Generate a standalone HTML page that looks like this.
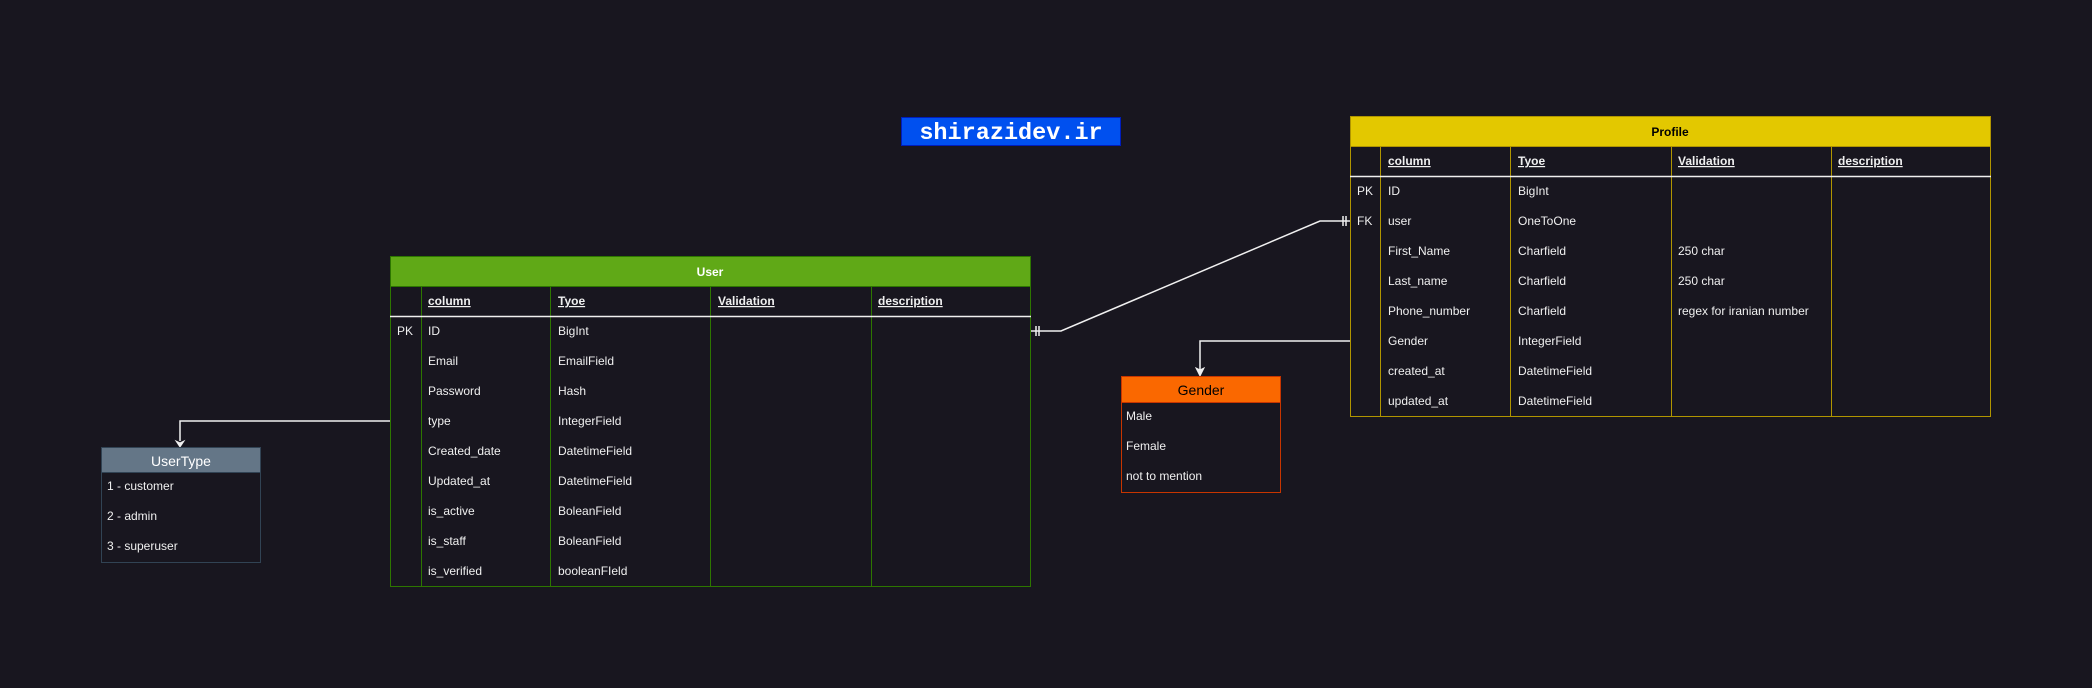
<!DOCTYPE html>
<html><head><meta charset="utf-8"><style>
html,body{margin:0;padding:0;background:#18161f;}
svg{display:block;}
text{font-family:"Liberation Sans",Arial,sans-serif;font-size:12px;fill:#f0f0f0;}
.b{font-weight:bold;}
.u{text-decoration:underline;font-weight:bold;}
</style></head><body>
<svg width="2092" height="688" viewBox="0 0 2092 688" xmlns="http://www.w3.org/2000/svg">
<rect width="2092" height="688" fill="#18161f"/>

<!-- label -->
<rect x="901.5" y="117.5" width="219" height="28" fill="#0050ef" stroke="#001dbc"/>
<text x="1011" y="139" text-anchor="middle" style="font-family:'Liberation Mono',monospace;font-size:23.5px;font-weight:bold;fill:#fff">shirazidev.ir</text>

<!-- connectors -->
<g stroke="#f0f0f0" stroke-width="1.5" fill="none">
<polyline points="1031,331 1061,331 1320,221 1350,221"/>
<line x1="1036" y1="326" x2="1036" y2="336"/><line x1="1039" y1="326" x2="1039" y2="336"/>
<line x1="1343" y1="216" x2="1343" y2="226"/><line x1="1346" y1="216" x2="1346" y2="226"/>
<polyline points="1350,341 1200,341 1200,370"/>
<polyline points="390,421 180,421 180,441"/>
</g>
<path d="M1196,368 L1200,376 L1204,368 L1200,370 Z" fill="#f0f0f0" stroke="#f0f0f0"/>
<path d="M176,441 L180,447 L184,441 L180,443 Z" fill="#f0f0f0" stroke="#f0f0f0"/>

<!-- User table -->
<rect x="390.5" y="256.5" width="640" height="30" fill="#60a917" stroke="#2d7600"/>
<text x="710" y="276" text-anchor="middle" class="b" style="fill:#fff">User</text>
<rect x="390.5" y="286.5" width="640" height="300" fill="none" stroke="#2d7600"/>
<g stroke="#2d7600"><line x1="421.5" y1="286" x2="421.5" y2="587"/><line x1="550.5" y1="286" x2="550.5" y2="587"/><line x1="710.5" y1="286" x2="710.5" y2="587"/><line x1="871.5" y1="286" x2="871.5" y2="587"/></g>
<line x1="390" y1="316.5" x2="1031" y2="316.5" stroke="#f0f0f0" stroke-width="1.5"/>
<text x="428" y="305" class="u">column</text><text x="558" y="305" class="u">Tyoe</text><text x="718" y="305" class="u">Validation</text><text x="878" y="305" class="u">description</text>
<text x="397" y="335">PK</text>
<g>
<text x="428" y="335">ID</text><text x="558" y="335">BigInt</text>
<text x="428" y="365">Email</text><text x="558" y="365">EmailField</text>
<text x="428" y="395">Password</text><text x="558" y="395">Hash</text>
<text x="428" y="425">type</text><text x="558" y="425">IntegerField</text>
<text x="428" y="455">Created_date</text><text x="558" y="455">DatetimeField</text>
<text x="428" y="485">Updated_at</text><text x="558" y="485">DatetimeField</text>
<text x="428" y="515">is_active</text><text x="558" y="515">BoleanField</text>
<text x="428" y="545">is_staff</text><text x="558" y="545">BoleanField</text>
<text x="428" y="575">is_verified</text><text x="558" y="575">booleanFIeld</text>
</g>

<!-- Profile table -->
<rect x="1350.5" y="116.5" width="640" height="30" fill="#e3c800" stroke="#b09500"/>
<text x="1670" y="136" text-anchor="middle" class="b" style="fill:#000">Profile</text>
<rect x="1350.5" y="146.5" width="640" height="270" fill="none" stroke="#b09500"/>
<g stroke="#b09500"><line x1="1380.5" y1="146" x2="1380.5" y2="417"/><line x1="1510.5" y1="146" x2="1510.5" y2="417"/><line x1="1671.5" y1="146" x2="1671.5" y2="417"/><line x1="1831.5" y1="146" x2="1831.5" y2="417"/></g>
<line x1="1350" y1="176.5" x2="1991" y2="176.5" stroke="#f0f0f0" stroke-width="1.5"/>
<text x="1388" y="165" class="u">column</text><text x="1518" y="165" class="u">Tyoe</text><text x="1678" y="165" class="u">Validation</text><text x="1838" y="165" class="u">description</text>
<text x="1357" y="195">PK</text><text x="1357" y="225">FK</text>
<text x="1388" y="195">ID</text><text x="1518" y="195">BigInt</text>
<text x="1388" y="225">user</text><text x="1518" y="225">OneToOne</text>
<text x="1388" y="255">First_Name</text><text x="1518" y="255">Charfield</text><text x="1678" y="255">250 char</text>
<text x="1388" y="285">Last_name</text><text x="1518" y="285">Charfield</text><text x="1678" y="285">250 char</text>
<text x="1388" y="315">Phone_number</text><text x="1518" y="315">Charfield</text><text x="1678" y="315">regex for iranian number</text>
<text x="1388" y="345">Gender</text><text x="1518" y="345">IntegerField</text>
<text x="1388" y="375">created_at</text><text x="1518" y="375">DatetimeField</text>
<text x="1388" y="405">updated_at</text><text x="1518" y="405">DatetimeField</text>

<!-- Gender -->
<rect x="1121.5" y="376.5" width="159" height="26" fill="#fa6800" stroke="#c73500"/>
<text x="1201" y="395" text-anchor="middle" style="font-size:14px;fill:#000">Gender</text>
<rect x="1121.5" y="402.5" width="159" height="90" fill="none" stroke="#c73500"/>
<text x="1126" y="420">Male</text><text x="1126" y="450">Female</text><text x="1126" y="480">not to mention</text>

<!-- UserType -->
<rect x="101.5" y="447.5" width="159" height="25" fill="#647687" stroke="#314354"/>
<text x="181" y="466" text-anchor="middle" style="font-size:14px;fill:#fff">UserType</text>
<rect x="101.5" y="472.5" width="159" height="90" fill="none" stroke="#314354"/>
<text x="107" y="490">1 - customer</text><text x="107" y="520">2 - admin</text><text x="107" y="550">3 - superuser</text>
</svg>
</body></html>
